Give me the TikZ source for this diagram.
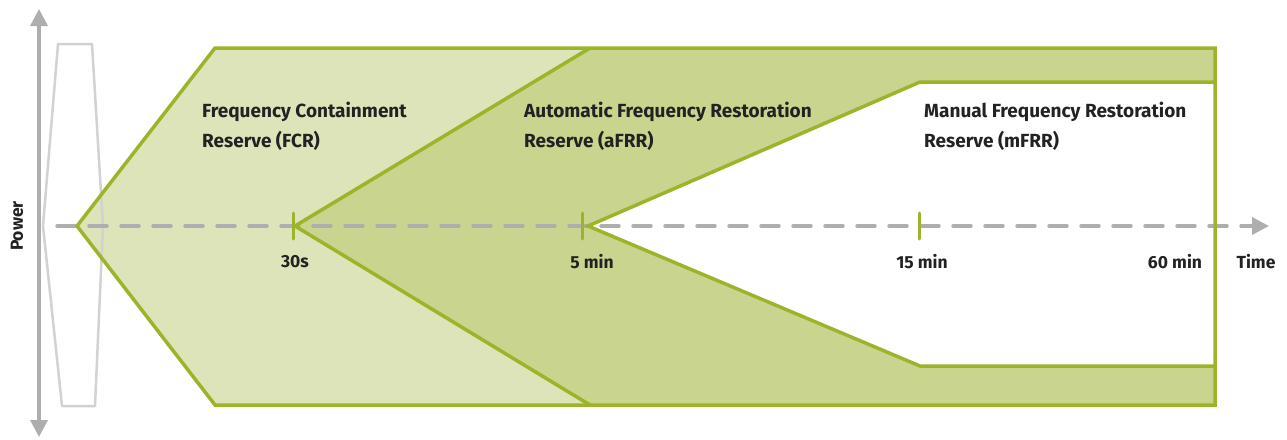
\documentclass[tikz,border=0pt]{standalone}
\usepackage{fontspec}
\setmainfont{Fira Sans}
\usetikzlibrary{arrows.meta}
\definecolor{resgreen}{HTML}{9BB52A}
\definecolor{fcrfill}{HTML}{DDE4BA}
\definecolor{afrrfill}{HTML}{C9D48F}
\definecolor{axisgray}{HTML}{AEAEAE}
\definecolor{boxgray}{HTML}{D2D2D2}
\definecolor{labeltext}{HTML}{222222}
\tikzset {
    reserve line/.style = {draw = resgreen, line width = 3.5pt},
    axis line/.style = {draw = axisgray, line width = 3.5pt},
    time tick/.style = {draw = resgreen, line width = 3pt, line cap = round},
    tick label/.style = {text = labeltext, font = \fontsize{17.5}{20}\selectfont\bfseries, inner sep = 0pt},
    reserve label/.style = {text = labeltext, font = \fontsize{19}{30}\selectfont\bfseries,
        align = left, anchor = north west, inner sep = 0pt},
    big tip/.style = {-{Triangle[length = 17pt, width = 17pt]}}
}
\begin{document}
\begin{tikzpicture}[x = 1pt, y = -1pt]
    \useasboundingbox (0, 0) rectangle (1287, 439);
    % key points
    \coordinate (start) at (77, 226);
    \coordinate (fcr top) at (215, 48);
    \coordinate (fcr bot) at (215, 405);
    \coordinate (s30) at (295, 226);
    \coordinate (m5) at (588, 226);
    \coordinate (afrr top) at (590, 48);
    \coordinate (afrr bot) at (590, 405);
    \coordinate (m15 top) at (920, 82);
    \coordinate (m15 bot) at (920, 366);
    \coordinate (end top) at (1215, 48);
    \coordinate (end bot) at (1215, 405);
    \coordinate (end in top) at (1215, 82);
    \coordinate (end in bot) at (1215, 366);
    % fills
    \fill [fcrfill] (start) -- (fcr top) -- (afrr top) -- (s30) -- (afrr bot) -- (fcr bot) -- cycle;
    \fill [afrrfill] (s30) -- (afrr top) -- (end top) -- (end in top) -- (m15 top) -- (m5)
        -- (m15 bot) -- (end in bot) -- (end bot) -- (afrr bot) -- cycle;
    % power axis and grey outline
    \draw [boxgray, line width = 2.5pt, line join = round]
        (58, 44) -- (92, 44) -- (103, 226) -- (95, 406) -- (62, 406) -- (43, 226) -- cycle;
    \coordinate (p low) at (39, 226);
    \draw [axis line, big tip] (p low) -- (39, 9);
    \draw [axis line, big tip] (p low) -- (39, 437);
    \node (power) [tick label, rotate = 90] at (17, 226) {Power};
    % time axis
    \coordinate (t start) at (57, 226);
    \coordinate (t end) at (1269, 226);
    \draw [axis line, dash pattern = on 18pt off 14pt, line cap = round] (t start) -- (1245, 226);
    \draw [axis line, big tip] (1240, 226) -- (t end);
    % outlines
    \draw [reserve line] (start) -- (fcr top) -- (end top) -- (end bot) -- (fcr bot) -- cycle;
    \draw [reserve line] (afrr top) -- (s30) -- (afrr bot);
    \draw [reserve line] (end in top) -- (m15 top) -- (m5) -- (m15 bot) -- (end in bot);
    % ticks
    \draw [time tick] (293, 213) -- (293, 239);
    \draw [time tick] (582, 213) -- (582, 239);
    \draw [time tick] (919, 213) -- (919, 239);
    \node (l30) [tick label] at (295, 262) {30s};
    \node (l5) [tick label] at (592, 262) {5 min};
    \node (l15) [tick label] at (922, 262) {15 min};
    \node (l60) [tick label] at (1175, 262) {60 min};
    \node (ltime) [tick label] at (1256, 262) {Time};
    % reserve names
    \node (fcr) [reserve label] at (202, 102) {Frequency Containment\\Reserve (FCR)};
    \node (afrr) [reserve label] at (524, 102) {Automatic Frequency Restoration\\Reserve (aFRR)};
    \node (mfrr) [reserve label] at (924, 102) {Manual Frequency Restoration\\Reserve (mFRR)};
\end{tikzpicture}
\end{document}
